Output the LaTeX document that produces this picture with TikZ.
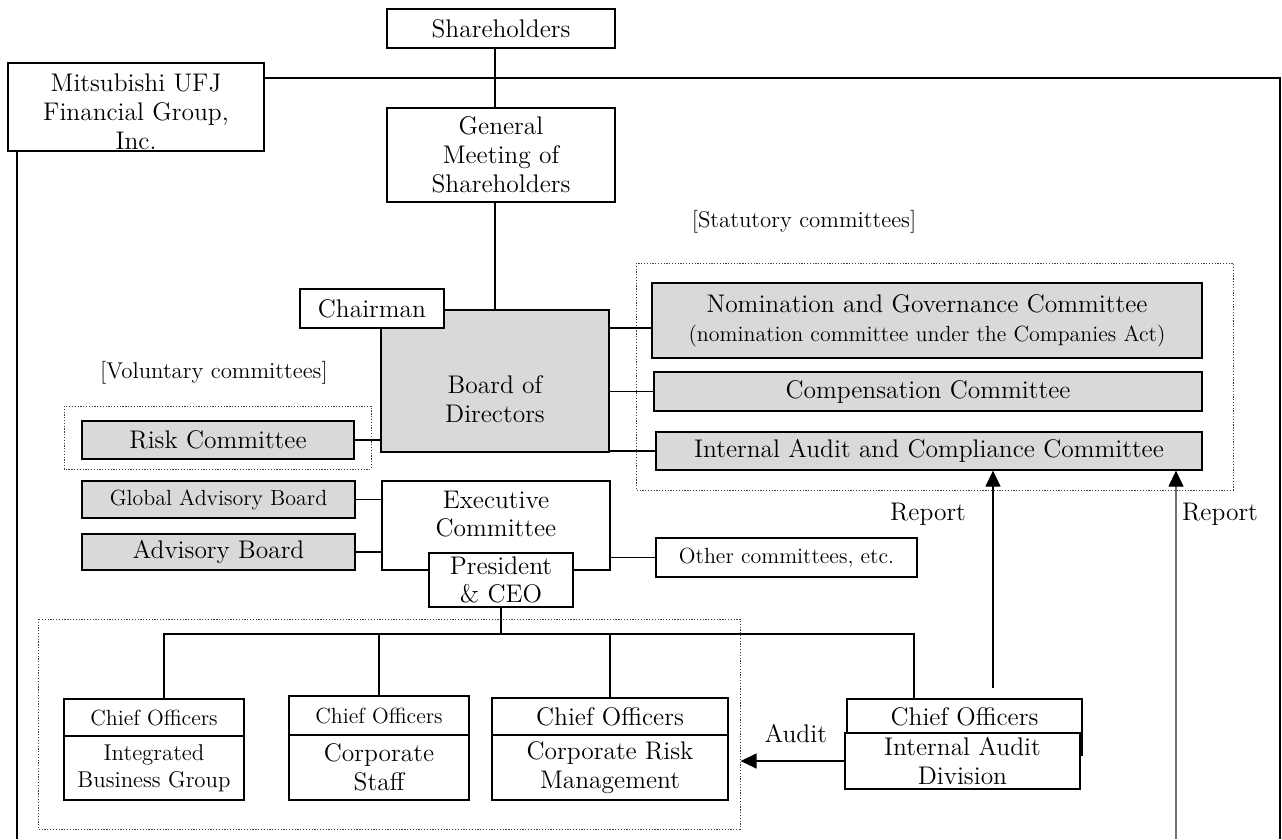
\documentclass[tikz,border=0pt]{standalone}
\usepackage{fontspec}
\usetikzlibrary{arrows.meta}

\definecolor{boxgrey}{HTML}{D9D9D9}
\newcommand\bigtxt{\fontsize{14.5}{16.4}\selectfont}
\newcommand\midtxt{\fontsize{13}{15.4}\selectfont}
\newcommand\smalltxt{\fontsize{12.5}{14.5}\selectfont}

\begin{document}
\begin{tikzpicture}[x=0.02cm, y=-0.02cm,
  box/.style={draw, line width=0.7pt, fill=white, inner sep=1pt, align=center, font=\bigtxt},
  gbox/.style={box, fill=boxgrey},
  dotbox/.style={draw=black!75, line width=0.45pt, dash pattern=on 0.7pt off 0.9pt},
  link/.style={line width=0.7pt},
  arr/.style={line width=0.7pt, -{Triangle[width=0.3cm,length=0.32cm,color=black]}},
  lbl/.style={font=\bigtxt, inner sep=0pt}]

\useasboundingbox (0,0) rectangle (1282,839);

%% Dotted groups
\draw[dotbox] (64,406) rectangle (371,469);
\draw[dotbox] (636,263) rectangle (1233,490);
\draw[dotbox] (38,619) rectangle (740,829);

\node[lbl, font=\midtxt] (volLbl) at (214,373) {[Voluntary committees]};
\node[lbl, font=\midtxt] (statLbl) at (804,222) {[Statutory committees]};

%% Top of the structure
\node[box, minimum width=4.56cm, minimum height=0.78cm] (share) at (501,28.5) {Shareholders};
\node[box, minimum width=5.12cm, minimum height=1.76cm,
  label={[lbl, align=center, yshift=-0.1cm]center:Mitsubishi UFJ\\Financial Group,\\Inc.}] (mufg) at (136,107) {};
\node[box, minimum width=4.56cm, minimum height=1.88cm] (gm) at (501,155) {General\\Meeting of\\Shareholders};
\node[gbox, minimum width=4.56cm, minimum height=2.84cm,
  label={[lbl, align=center, yshift=-0.36cm]center:Board of\\Directors}] (bod) at (495,381) {};
\node[box, minimum width=2.88cm, minimum height=0.78cm] (chair) at (372,308.5) {Chairman};

%% Group frame
\coordinate (frmTR) at (1280,78);
\coordinate (frmBR) at (1280,839);
\coordinate (frmBL) at (17,839);
\draw[link] (mufg.east |- frmTR) -- (frmTR) -- (frmBR);
\draw[link] (mufg.south -| frmBL) -- (frmBL);

\draw[link] (share.south -| bod.north) -- (gm.north -| bod.north);
\draw[link] (gm.south -| bod.north) -- (bod.north);

%% Statutory committees
\node[gbox, minimum width=11cm, minimum height=1.5cm] (nom) at (927,320.5) {Nomination and Governance Committee\\{\smalltxt(nomination committee under the Companies Act)}};
\node[gbox, minimum width=10.96cm, minimum height=0.78cm] (comp) at (928,391.5) {Compensation Committee};
\node[gbox, minimum width=10.92cm, minimum height=0.76cm] (iacc) at (929,451) {Internal Audit and Compliance Committee};

\coordinate (nomIn) at ([yshift=-0.15cm]nom.west);
\draw[link] (nomIn) -- (nomIn -| bod.east);
\draw[link] (comp.west) -- (comp.west -| bod.east);
\draw[link] (iacc.west) -- (iacc.west -| bod.east);

%% Voluntary committees and advisory boards
\node[gbox, minimum width=5.44cm, minimum height=0.76cm] (risk) at (218,440) {Risk Committee};
\node[gbox, minimum width=5.46cm, minimum height=0.74cm, font=\smalltxt] (gab) at (218.5,499.5) {Global Advisory Board};
\node[gbox, minimum width=5.46cm, minimum height=0.72cm] (advb) at (218.5,552) {Advisory Board};

\node[box, minimum width=4.56cm, minimum height=1.78cm,
  label={[lbl, align=center, yshift=0.23cm]center:Executive\\Committee}] (exec) at (496,525.5) {};
\node[box, minimum width=2.88cm, minimum height=1.08cm] (ceo) at (501,580) {President\\\& CEO};
\node[box, minimum width=5.22cm, minimum height=0.78cm, font=\smalltxt] (other) at (786.5,557.5) {Other committees, etc.};

\draw[link] (risk.east) -- (risk.east -| bod.west);
\draw[link] (gab.east) -- (gab.east -| exec.west);
\draw[link] (advb.east) -- (advb.east -| exec.west);
\draw[link] (other.west) -- (other.west -| exec.east);

%% Chief officers
\node[box, minimum width=3.6cm, minimum height=0.74cm, font=\smalltxt] (ibgT) at (154,717.5) {Chief Officers};
\node[box, minimum width=3.6cm, minimum height=1.28cm, font=\midtxt] (ibgB) at (154,768) {Integrated\\Business Group};
\node[box, minimum width=3.6cm, minimum height=0.78cm, font=\smalltxt] (csT) at (379,715.5) {Chief Officers};
\node[box, minimum width=3.6cm, minimum height=1.3cm] (csB) at (379,767.5) {Corporate\\Staff};
\node[box, minimum width=4.72cm, minimum height=0.74cm] (crmT) at (610,716.5) {Chief Officers};
\node[box, minimum width=4.72cm, minimum height=1.3cm] (crmB) at (610,767.5) {Corporate Risk\\Management};
\node[box, minimum width=4.7cm, minimum height=1.12cm,
  label={[lbl, yshift=0.2cm]center:Chief Officers}] (iadT) at (964.5,727) {};
\node[box, minimum width=4.7cm, minimum height=1.12cm] (iadB) at (962.5,761) {Internal Audit\\Division};

\coordinate (busL) at (164,634);
\coordinate (busR) at (914,634);
\draw[link] (ceo.south) -- (ceo.south |- busL);
\draw[link] (ibgT.north -| busL) -- (busL) -- (busR) -- (busR |- iadT.north);
\draw[link] (csT.north) -- (csT.north |- busL);
\draw[link] (crmT.north) -- (crmT.north |- busL);

%% Audit and reporting lines
\draw[arr, shorten >=0.24cm] (iadB.west) -- (iadB.west -| crmB.east)
  node[lbl, pos=0.42, above=0.36cm] (audit) {Audit};

\coordinate (rep1) at (993,688);
\draw[arr] (rep1) -- (rep1 |- iacc.south);
\node[lbl] (rep1Lbl) at (928,514) {Report};

\coordinate (rep2) at (1176,839);
\draw[arr, draw=black!55] (rep2) -- (rep2 |- iacc.south);
\node[lbl] (rep2Lbl) at (1220,514) {Report};

\end{tikzpicture}
\end{document}
